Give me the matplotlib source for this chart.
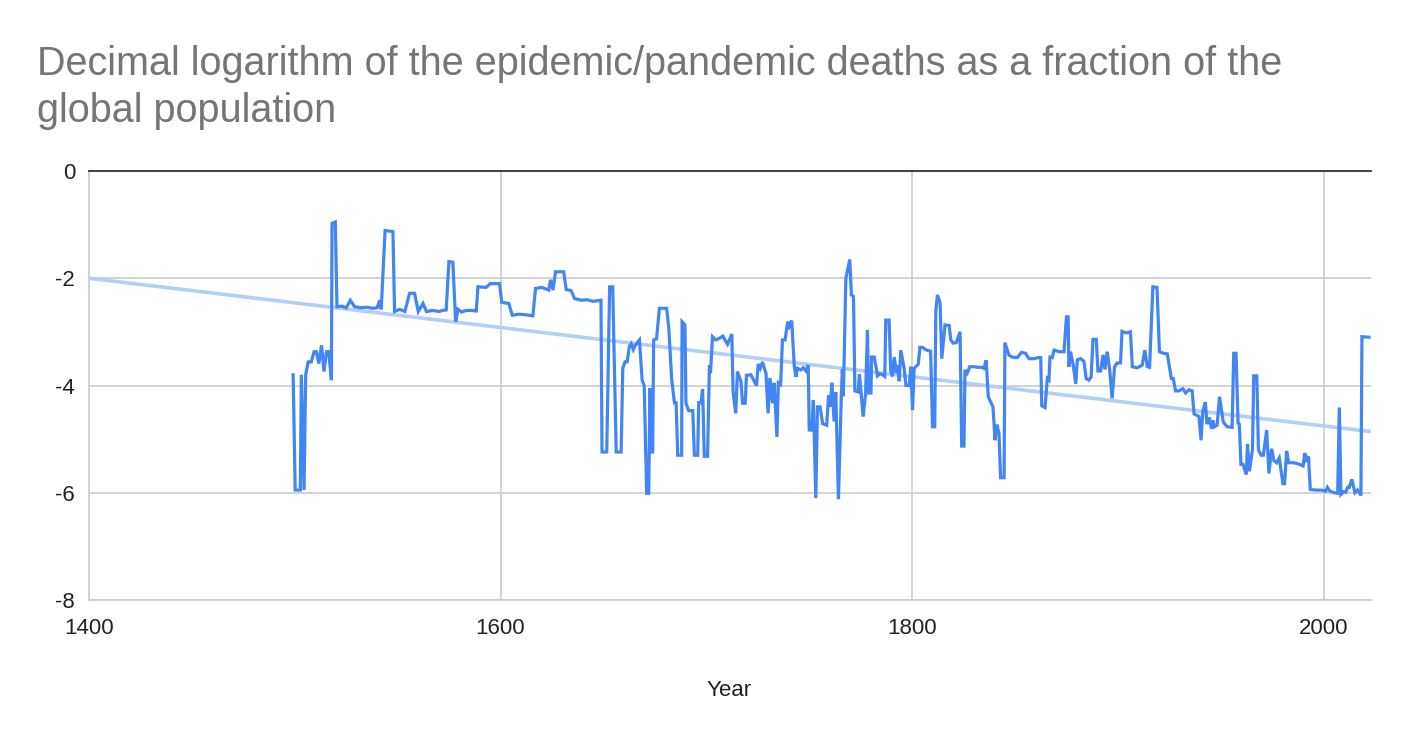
import matplotlib
matplotlib.use('Agg')
import matplotlib.pyplot as plt

# Data
years = [
    1499.2, 1500.2, 1502.7, 1503.2, 1504.5, 1505.3, 1506.5, 1508.0, 1509.4, 1510.5,
    1511.7, 1513.0, 1514.2, 1515.4, 1516.5, 1517.8, 1518.1, 1519.7, 1520.5, 1523,
    1525, 1527, 1529, 1532, 1535, 1538, 1540, 1541.3, 1542, 1543.9,
    1547.7, 1548.5, 1551, 1553.5, 1555.8, 1558.2, 1560, 1562.3, 1564, 1567,
    1570, 1572, 1573.6, 1574.9, 1576.8, 1578.2, 1579.3, 1581, 1583.3, 1585.8,
    1588.2, 1589.0, 1593.0, 1595.0, 1599.5, 1600.6, 1604.0, 1605.7, 1609, 1612,
    1615.7, 1617.0, 1620.0, 1622, 1623.4, 1624.3, 1625.5, 1626.7, 1630.7, 1631.9,
    1634.3, 1636.0, 1639.3, 1642, 1644.8, 1648.8, 1649.3, 1651.6, 1653.0, 1654.5,
    1656.2, 1658.6, 1659.4, 1660.5, 1661.5, 1662.6, 1663.5, 1664.5, 1665.5, 1667.5,
    1668.8, 1669.8, 1671.0, 1672.0, 1672.6, 1673.1, 1673.9, 1674.4, 1675.8, 1677.2,
    1680.7, 1681.7, 1683.2, 1684.5, 1685.3, 1686.1, 1688.0, 1688.2, 1689.6, 1690.1,
    1691.4, 1693.4, 1694.2, 1695.8, 1696.3, 1697.4, 1698.2, 1699.0, 1700.6, 1701.5,
    1702, 1703.0, 1704.6, 1706.3, 1708.0, 1710.3, 1712.4, 1713.0, 1714.3, 1715.1,
    1716.8, 1717.6, 1718.9, 1719.5, 1721.6, 1723.3, 1724.4, 1725.2, 1726.2, 1727.3,
    1729.0, 1730.0, 1730.9, 1732.2, 1733.0, 1734.3, 1735.0, 1736.1, 1737.0, 1738.3,
    1739.5, 1740.3, 1741.5, 1742.7, 1743.5, 1744.3, 1745.9, 1747.1, 1748.4, 1749.5,
    1750.0, 1751.3, 1752.0, 1753.2, 1754.0, 1755.3, 1756.5, 1758.5, 1759.4, 1760.2,
    1761.0, 1762.1, 1762.9, 1764.2, 1765.6, 1766.1, 1766.6, 1767.8, 1769.7, 1770.5,
    1771.5, 1772.2, 1773.8, 1774.4, 1776.2, 1777.4, 1778.3, 1778.8, 1780.0, 1780.3,
    1781.6, 1783.2, 1784.3, 1785.6, 1786.7, 1787.2, 1788.8, 1789.6, 1790.4, 1791.3,
    1792.4, 1793.2, 1793.7, 1794.5, 1796.1, 1797.0, 1798.6, 1799.4, 1800.2, 1801.0,
    1803.0, 1803.8, 1805.1, 1807.0, 1809.0, 1809.9, 1811.0, 1811.5, 1812.3, 1813.6,
    1814.4, 1816.0, 1818.0, 1818.8, 1819.9, 1821.5, 1823.3, 1824.1, 1825.2, 1825.7,
    1826.8, 1828.0, 1830.1, 1831.7, 1833.8, 1834.9, 1836.0, 1837.0, 1838.1, 1839.3,
    1840.3, 1841.1, 1842.2, 1843.0, 1844.7, 1845.1, 1847.0, 1848.6, 1851.1, 1853.2,
    1855.1, 1856.8, 1859.2, 1861.3, 1862.5, 1863.0, 1864.6, 1865.7, 1866.5, 1867.0,
    1868.1, 1869.0, 1871.4, 1873.8, 1875.0, 1875.8, 1876.2, 1877.0, 1878.3, 1879.5,
    1880.3, 1881.9, 1883.5, 1884.6, 1885.9, 1887.0, 1887.9, 1889.5, 1890.3, 1891.6,
    1892.8, 1893.7, 1894.8, 1896.0, 1897.2, 1898.4, 1899.6, 1901.3, 1902.0, 1904.0,
    1906.1, 1907.0, 1909.4, 1911.8, 1913.1, 1914.3, 1915.4, 1917.0, 1919.0, 1920.2,
    1922.3, 1924.0, 1926.0, 1926.9, 1928.0, 1929.6, 1931.6, 1932.9, 1934.5, 1936.1,
    1937.0, 1938.6, 1939.4, 1940.4, 1941.3, 1942.5, 1943.3, 1944.5, 1945.5, 1946.1,
    1946.9, 1948.2, 1949.4, 1951.2, 1953.1, 1955.5, 1956.3, 1957.4, 1958.4, 1959.0,
    1959.8, 1960.8, 1962.4, 1963.0, 1963.3, 1963.9, 1965.4, 1966.0, 1967.5, 1968.3,
    1969.6, 1970.7, 1972.3, 1973.4, 1974.7, 1975.8, 1977.1, 1978.4, 1980.2, 1981.0,
    1982.0, 1983.0, 1985.2, 1987.6, 1990.0, 1990.8, 1991.6, 1992.6, 1993.5, 1996.3,
    1998.7, 2001.0, 2001.8, 2003.0, 2005.2, 2006.8, 2007.6, 2008.4, 2009.7, 2010.8,
    2011.6, 2012.4, 2013.7, 2015.2, 2016.5, 2018.1, 2018.6, 2022.0,
]
log_deaths = [
    -3.80, -5.95, -5.95, -3.80, -5.95, -3.80, -3.56, -3.56, -3.37, -3.37,
    -3.59, -3.25, -3.74, -3.37, -3.37, -3.90, -0.98, -0.95, -2.53, -2.52,
    -2.55, -2.41, -2.53, -2.55, -2.54, -2.56, -2.55, -2.41, -2.58, -1.11,
    -1.13, -2.62, -2.58, -2.62, -2.28, -2.28, -2.62, -2.47, -2.62, -2.60,
    -2.62, -2.60, -2.59, -1.69, -1.70, -2.81, -2.58, -2.63, -2.60, -2.60,
    -2.61, -2.16, -2.17, -2.10, -2.10, -2.45, -2.47, -2.69, -2.67, -2.68,
    -2.70, -2.19, -2.17, -2.20, -2.22, -2.03, -2.22, -1.88, -1.88, -2.21,
    -2.23, -2.38, -2.41, -2.40, -2.43, -2.41, -5.24, -5.24, -2.16, -2.16,
    -5.24, -5.24, -3.68, -3.56, -3.56, -3.27, -3.22, -3.33, -3.25, -3.15,
    -3.90, -4.00, -6.01, -6.01, -4.05, -5.24, -5.24, -3.15, -3.13, -2.56,
    -2.56, -2.90, -3.90, -4.32, -4.32, -5.30, -5.30, -2.81, -2.87, -4.33,
    -4.47, -4.47, -5.30, -5.30, -4.32, -4.32, -4.07, -5.32, -5.32, -3.62,
    -3.77, -3.09, -3.15, -3.12, -3.08, -3.23, -3.04, -4.12, -4.52, -3.74,
    -3.92, -4.33, -4.33, -3.81, -3.80, -3.92, -4.00, -3.60, -3.68, -3.56,
    -3.78, -4.52, -3.86, -4.33, -3.95, -4.96, -3.95, -3.98, -3.15, -3.15,
    -2.81, -2.90, -2.79, -3.62, -3.84, -3.68, -3.71, -3.67, -3.73, -3.62,
    -4.83, -4.83, -4.27, -6.10, -4.40, -4.40, -4.71, -4.74, -4.18, -4.40,
    -3.95, -4.67, -4.13, -6.12, -4.20, -3.70, -4.20, -2.00, -1.65, -2.31,
    -2.34, -4.10, -4.12, -3.79, -4.58, -4.14, -2.97, -4.14, -4.14, -3.47,
    -3.47, -3.82, -3.78, -3.80, -3.83, -2.78, -2.78, -3.72, -3.83, -3.47,
    -3.77, -3.62, -3.92, -3.34, -3.68, -4.00, -4.00, -3.65, -4.46, -3.68,
    -3.60, -3.29, -3.29, -3.34, -3.36, -4.77, -4.77, -2.62, -2.31, -2.46,
    -3.50, -2.87, -2.88, -3.15, -3.21, -3.20, -3.00, -5.13, -5.13, -3.71,
    -3.77, -3.65, -3.65, -3.66, -3.66, -3.68, -3.53, -4.21, -4.30, -4.40,
    -5.02, -4.73, -4.88, -5.72, -5.72, -3.20, -3.43, -3.47, -3.48, -3.38,
    -3.40, -3.50, -3.50, -3.48, -3.48, -4.38, -4.41, -3.87, -3.90, -3.47,
    -3.48, -3.34, -3.37, -3.37, -2.72, -2.72, -3.65, -3.37, -3.62, -3.97,
    -3.52, -3.50, -3.55, -3.87, -3.90, -3.84, -3.14, -3.14, -3.73, -3.73,
    -3.43, -3.70, -3.37, -3.70, -4.24, -3.65, -3.58, -3.58, -2.99, -3.02,
    -3.00, -3.65, -3.67, -3.62, -3.34, -3.65, -3.66, -2.16, -2.17, -3.37,
    -3.40, -3.41, -3.87, -3.87, -4.10, -4.10, -4.06, -4.14, -4.08, -4.10,
    -4.53, -4.56, -4.58, -5.02, -4.47, -4.31, -4.72, -4.60, -4.81, -4.65,
    -4.77, -4.74, -4.21, -4.68, -4.77, -4.78, -3.40, -3.40, -4.70, -4.72,
    -5.47, -5.47, -5.66, -5.09, -5.28, -5.60, -5.20, -3.82, -3.82, -5.20,
    -5.30, -5.30, -4.83, -5.64, -5.18, -5.40, -5.44, -5.35, -5.83, -5.83,
    -5.22, -5.44, -5.44, -5.46, -5.50, -5.26, -5.38, -5.32, -5.94, -5.95,
    -5.95, -5.97, -5.90, -5.97, -6.00, -6.01, -4.41, -6.03, -5.98, -5.99,
    -5.90, -5.90, -5.75, -6.00, -5.95, -6.05, -3.09, -3.10,
]

# linear trendline end points as shown in the chart
trend_years = [1400, 2023]
trend_values = [-2.0, -4.86]

x_ticks = [1400, 1600, 1800, 2000]
y_ticks = [0, -2, -4, -6, -8]

title_line1 = "Decimal logarithm of the epidemic/pandemic deaths as a fraction of the"
title_line2 = "global population"
x_label = "Year"

plt.rcParams['font.family'] = ['Liberation Sans', 'DejaVu Sans']
plt.rcParams['axes.unicode_minus'] = False

W, H = 1408, 742
fig = plt.figure(figsize=(W / 100, H / 100), dpi=100)
ax = fig.add_axes([89 / W, 1 - 600 / H, (1371 - 89) / W, (600 - 171) / H])

grid_color = '#cccccc'
ax.plot(trend_years, trend_values, color='#b3cefb', lw=2.6, solid_capstyle='butt', zorder=2)
ax.plot(years, log_deaths, color='#4285f4', lw=2.3, solid_joinstyle='miter', zorder=3)

ax.set_xlim(1400, 2023)
ax.set_ylim(-8, 0)
ax.set_xticks(x_ticks)
ax.set_yticks(y_ticks)
ax.grid(True, color=grid_color, lw=1.2)
ax.set_axisbelow(True)
for side in ['right', 'top']:
    ax.spines[side].set_visible(False)
for side in ['left', 'bottom']:
    ax.spines[side].set_color(grid_color)
    ax.spines[side].set_linewidth(1.2)
ax.axhline(0, color='#333333', lw=1.3, clip_on=False, zorder=4)

ax.tick_params(length=0, labelsize=16, labelcolor='#222222')
ax.tick_params(axis='y', pad=10)
ax.tick_params(axis='x', pad=13)

fig.text(37 / W, 1 - 75 / H, title_line1, fontsize=28.5, color='#757575', va='baseline', ha='left')
fig.text(37 / W, 1 - 122 / H, title_line2, fontsize=28.5, color='#757575', va='baseline', ha='left')
fig.text(729 / W, 1 - 690 / H, x_label, fontsize=16, color='#222222', va='center', ha='center')

fig.savefig('out.png', dpi=100)
